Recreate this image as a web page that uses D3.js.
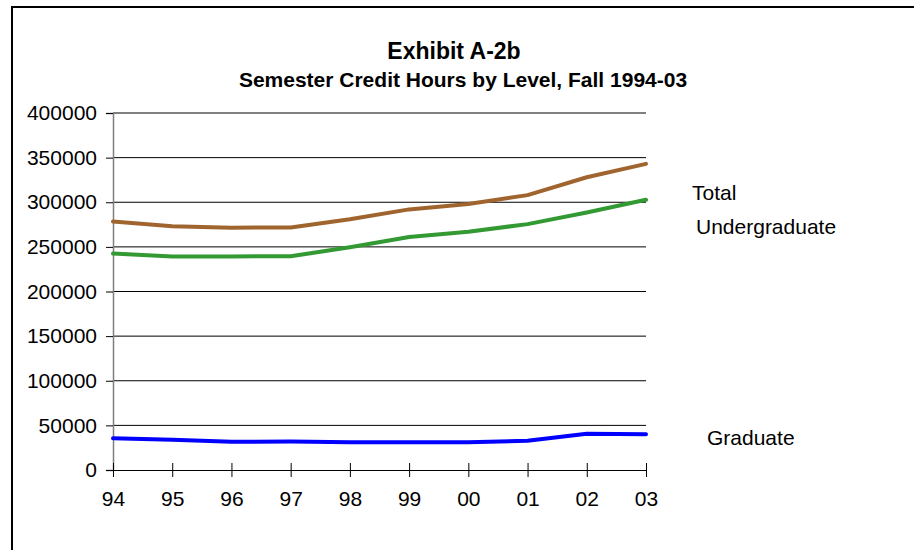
<!DOCTYPE html>
<html><head><meta charset="utf-8">
<script src="https://cdn.jsdelivr.net/npm/d3@7"></script>
<style>body{margin:0;background:#fff}svg{display:block}text{font-family:"Liberation Sans",Arial,sans-serif}</style>
</head><body><svg id="c" width="914" height="550"></svg>
<script>
const years = ["94","95","96","97","98","99","00","01","02","03"];
const total = [278300,273000,271500,271800,281000,292000,298000,308000,328000,343000];
const undergraduate = [242500,239200,239300,239500,249500,261000,267000,275500,288500,302800];
const graduate = [35500,34000,31700,31800,31000,31000,31000,32800,40500,40000];
const yTicks = [0,50000,100000,150000,200000,250000,300000,350000,400000];
const seriesNames = ["Total","Undergraduate","Graduate"];

const svg = d3.select("#c");
// frame
svg.append("path").attr("d","M12,550 L12,7 L914,7").attr("fill","none").attr("stroke","#000").attr("stroke-width",2);

const x = d3.scalePoint().domain(years).range([113,646]);
const y = d3.scaleLinear().domain([0,400000]).range([470,113]);

// gridlines
svg.append("g").selectAll("line").data(yTicks.slice(1)).join("line")
  .attr("x1",113).attr("x2",646).attr("y1",d=>y(d)).attr("y2",d=>y(d))
  .attr("stroke","#000").attr("stroke-width",1);

const F = "Liberation Sans, Arial, sans-serif";
// y axis
const ya = svg.append("g").attr("transform","translate(113,0)")
  .call(d3.axisLeft(y).tickValues(yTicks).tickSize(7).tickPadding(9).tickFormat(d3.format("d")));
ya.select(".domain").attr("stroke","#808080").attr("stroke-width",1.5);
ya.selectAll(".tick line").attr("stroke","#000");
ya.selectAll("text").attr("font-size",21).attr("fill","#000").attr("font-family",F);

// x axis
const xa = svg.append("g").attr("transform","translate(0,470)")
  .call(d3.axisBottom(x).tickSize(7).tickPadding(14).tickSizeOuter(0));
xa.select(".domain").attr("stroke","#000").attr("stroke-width",1);
xa.selectAll(".tick line").attr("y1",-7).attr("y2",7).attr("stroke","#000");
xa.selectAll("text").attr("font-size",21).attr("fill","#000").attr("font-family",F);

const line = d3.line().x((d,i)=>x(years[i])).y(d=>y(d));
const series = [
  {name:seriesNames[0], values:total, color:"#A0652F"},
  {name:seriesNames[1], values:undergraduate, color:"#339933"},
  {name:seriesNames[2], values:graduate, color:"#0000FF"}
];
svg.append("g").selectAll("path").data(series).join("path")
  .attr("d",d=>line(d.values)).attr("fill","none").attr("stroke",d=>d.color)
  .attr("stroke-width",4).attr("stroke-linejoin","round").attr("stroke-linecap","round");

// series labels
const labelPos = [[692,200],[696,234],[707,445]];
svg.append("g").selectAll("text").data(series).join("text")
  .attr("x",(d,i)=>labelPos[i][0]).attr("y",(d,i)=>labelPos[i][1])
  .attr("font-size",21).attr("fill","#000").attr("font-family",F).text(d=>d.name);

// titles
svg.append("text").attr("x",454).attr("y",59).attr("text-anchor","middle")
  .attr("font-size",23).attr("font-weight","bold").attr("font-family",F).text("Exhibit A-2b");
svg.append("text").attr("x",463).attr("y",87).attr("text-anchor","middle")
  .attr("font-size",21).attr("font-weight","bold").attr("font-family",F).text("Semester Credit Hours by Level, Fall 1994-03");
</script></body></html>
